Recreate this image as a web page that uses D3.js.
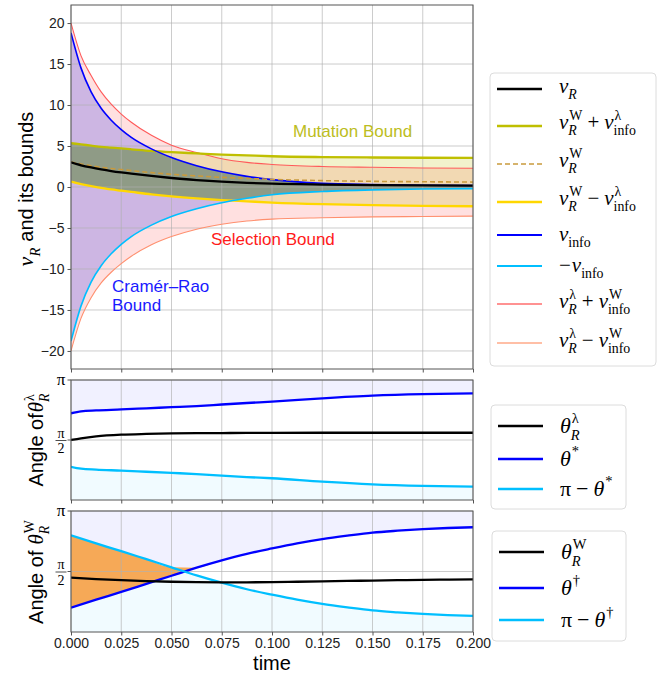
<!DOCTYPE html>
<html>
<head>
<meta charset="utf-8">
<script src="https://cdnjs.cloudflare.com/ajax/libs/d3/7.8.5/d3.min.js"></script>
<style>
  body { margin: 0; background: #fff; }
  text { font-family: "Liberation Sans", Arial, sans-serif; }
</style>
</head>
<body>
<svg id="chart" width="672" height="677"></svg>
<script>
const PI = Math.PI;

// ---- top panel: v_R and its bounds ----
const tTop    = [0, 0.005, 0.01, 0.015, 0.02, 0.025, 0.03, 0.04, 0.05, 0.0625, 0.075, 0.0875, 0.1, 0.125, 0.15, 0.175, 0.2];
const vR      = [3.0, 2.65, 2.38, 2.15, 1.95, 1.78, 1.63, 1.35, 1.1, 0.85, 0.65, 0.5, 0.4, 0.3, 0.24, 0.2, 0.17];
const vW      = [3.05, 2.8, 2.6, 2.4, 2.25, 2.13, 2.0, 1.75, 1.55, 1.35, 1.18, 1.05, 0.93, 0.78, 0.69, 0.64, 0.6];
const mutUp   = [5.35, 5.2, 5.05, 4.9, 4.8, 4.7, 4.6, 4.4, 4.25, 4.1, 3.95, 3.85, 3.75, 3.65, 3.6, 3.57, 3.55];
const mutLow  = [0.65, 0.35, 0.1, -0.1, -0.3, -0.45, -0.6, -0.9, -1.15, -1.4, -1.6, -1.75, -1.9, -2.1, -2.22, -2.3, -2.35];
const vInfo   = [18.8, 14.5, 11.6, 9.6, 8.15, 7.0, 6.05, 4.65, 3.6, 2.6, 1.85, 1.3, 0.9, 0.45, 0.3, 0.22, 0.18];
const vInfoN  = [-18.8, -14.5, -11.6, -9.6, -8.15, -7.0, -6.05, -4.65, -3.6, -2.65, -1.92, -1.38, -0.95, -0.55, -0.35, -0.25, -0.2];
const selUp   = [20, 16.0, 13.6, 11.6, 10.1, 8.9, 7.9, 6.3, 5.1, 4.2, 3.45, 3.0, 2.75, 2.5, 2.4, 2.32, 2.28];
const selLow  = [-20, -16.0, -13.5, -11.7, -10.4, -9.35, -8.45, -7.05, -6.05, -5.15, -4.55, -4.15, -3.92, -3.75, -3.65, -3.6, -3.55];

// ---- middle panel: angle of theta_R^lambda ----
const tMid      = [0, 0.005, 0.0125, 0.025, 0.0375, 0.05, 0.0625, 0.075, 0.0875, 0.1, 0.125, 0.15, 0.175, 0.2];
const thLam     = [1.571, 1.615, 1.665, 1.71, 1.73, 1.743, 1.75, 1.753, 1.756, 1.758, 1.76, 1.76, 1.76, 1.76];
const thStar    = [2.27, 2.32, 2.345, 2.37, 2.40, 2.43, 2.46, 2.50, 2.54, 2.575, 2.66, 2.73, 2.77, 2.79];
const thStarC   = [0.87, 0.82, 0.795, 0.77, 0.74, 0.71, 0.68, 0.64, 0.60, 0.57, 0.48, 0.41, 0.37, 0.35];

// ---- bottom panel: angle of theta_R^W ----
const tBot      = [0, 0.0125, 0.025, 0.0375, 0.05, 0.0625, 0.075, 0.0875, 0.1, 0.1125, 0.125, 0.1375, 0.15, 0.1625, 0.175, 0.1875, 0.2];
const thW       = [1.41, 1.375, 1.345, 1.32, 1.305, 1.295, 1.29, 1.29, 1.295, 1.305, 1.315, 1.325, 1.335, 1.345, 1.355, 1.36, 1.365];
const thDag     = [0.63, 0.84, 1.04, 1.25, 1.46, 1.67, 1.86, 2.03, 2.17, 2.30, 2.41, 2.50, 2.58, 2.63, 2.67, 2.70, 2.72];
const thDagC    = [2.51, 2.30, 2.10, 1.89, 1.68, 1.47, 1.28, 1.11, 0.97, 0.84, 0.73, 0.64, 0.56, 0.51, 0.47, 0.44, 0.42];

const xTicks   = [0, 0.025, 0.05, 0.075, 0.1, 0.125, 0.15, 0.175, 0.2];
const yTicksTop = [-20, -15, -10, -5, 0, 5, 10, 15, 20];
const angleTicks = [PI / 2, PI];

const serif = '"Liberation Serif","DejaVu Serif",serif';
const sans = '"Liberation Sans",Arial,sans-serif';

const svg = d3.select("#chart");

const x = d3.scaleLinear().domain([0, 0.2]).range([71, 473]);
const yTop = d3.scaleLinear().domain([-22.2, 22.2]).range([369, 5]);
const yMid = d3.scaleLinear().domain([0, PI]).range([500, 380]);
const yBot = d3.scaleLinear().domain([0, PI]).range([632, 511]);

// draws math-ish text piece by piece, returns width
function mathText(g, x0, y0, parts, size) {
  let cx = x0;
  const small = size * 0.66;
  for (const p of parts) {
    cx += p.padL || 0;
    if (p.b) {
      const t = g.append("text").attr("x", cx).attr("y", y0)
        .style("font-family", p.sans ? sans : serif)
        .style("font-style", p.it ? "italic" : "normal")
        .style("font-size", (p.size || size) + "px")
        .text(p.b);
      cx += t.node().getComputedTextLength();
    }
    let w = 0;
    if (p.sub) {
      const s = g.append("text").attr("x", cx).attr("y", y0 + size * 0.3)
        .style("font-family", serif)
        .style("font-style", p.subIt ? "italic" : "normal")
        .style("font-size", small + "px").text(p.sub);
      w = Math.max(w, s.node().getComputedTextLength());
    }
    if (p.sup) {
      const s = g.append("text").attr("x", cx + 1).attr("y", y0 - size * 0.45)
        .style("font-family", serif)
        .style("font-style", p.supIt ? "italic" : "normal")
        .style("font-size", small + "px").text(p.sup);
      w = Math.max(w, s.node().getComputedTextLength() + 1);
    }
    cx += w + (p.padR || 0);
  }
  return cx - x0;
}

function panel(top, bottom, id) {
  const g = svg.append("g");
  svg.append("clipPath").attr("id", id).append("rect")
    .attr("x", x.range()[0]).attr("y", top)
    .attr("width", x.range()[1] - x.range()[0]).attr("height", bottom - top);
  return g;
}

function grid(g, y, yTicks, top, bottom) {
  g.append("g").selectAll("line").data(xTicks).join("line")
    .attr("x1", d => x(d)).attr("x2", d => x(d))
    .attr("y1", top).attr("y2", bottom)
    .attr("stroke", "#b0b0b0").attr("stroke-opacity", 0.65).attr("stroke-width", 1);
  g.append("g").selectAll("line").data(yTicks).join("line")
    .attr("x1", x.range()[0]).attr("x2", x.range()[1])
    .attr("y1", d => y(d)).attr("y2", d => y(d))
    .attr("stroke", "#b0b0b0").attr("stroke-opacity", 0.65).attr("stroke-width", 1);
}

function frame(g, top, bottom, showX) {
  g.append("rect").attr("x", x.range()[0]).attr("y", top)
    .attr("width", x.range()[1] - x.range()[0]).attr("height", bottom - top)
    .attr("fill", "none").attr("stroke", "#555").attr("stroke-width", 1);
  const ax = g.append("g").attr("transform", `translate(0,${bottom})`)
    .call(d3.axisBottom(x).tickValues(xTicks).tickSize(3.5).tickPadding(3)
      .tickFormat(showX ? d3.format(".3f") : ""));
  ax.select(".domain").remove();
  ax.selectAll("line").attr("stroke", "#555");
  ax.selectAll("text").style("font-size", "14px").style("font-family", sans).attr("fill", "#222");
}

function line(g, t, vals, y, color, width, dash, clip) {
  const gen = d3.line().x((d, i) => x(t[i])).y(d => y(d)).curve(d3.curveMonotoneX);
  g.append("path").datum(vals).attr("d", gen)
    .attr("fill", "none").attr("stroke", color).attr("stroke-width", width)
    .attr("stroke-dasharray", dash || null).attr("clip-path", `url(#${clip})`);
}

function band(g, t, lo, hi, y, color, opacity, clip) {
  const gen = d3.area().x((d, i) => x(t[i])).y0((d, i) => y(lo[i])).y1((d, i) => y(hi[i]))
    .curve(d3.curveMonotoneX);
  g.append("path").datum(t).attr("d", gen)
    .attr("fill", color).attr("fill-opacity", opacity).attr("clip-path", `url(#${clip})`);
}

// ================= TOP PANEL =================
const gTop = panel(5, 369, "clipTop");
band(gTop, tTop, selLow, selUp, yTop, "#ff0000", 0.12, "clipTop");
band(gTop, tTop, mutLow, mutUp, yTop, "#bfbf00", 0.2, "clipTop");
band(gTop, tTop, vInfoN, vInfo, yTop, "#cdb6e3", 1, "clipTop");
// tightest region: inside both mutation and Cramer-Rao bounds
const tightLo = tTop.map((d, i) => Math.max(vInfoN[i], mutLow[i]));
const tightHi = tTop.map((d, i) => Math.min(vInfo[i], mutUp[i]));
band(gTop, tTop, tightLo, tightHi, yTop, "#8f9b86", 1, "clipTop");
grid(gTop, yTop, yTicksTop, 5, 369);

line(gTop, tTop, selUp, yTop, "#ff5a5a", 1.1, null, "clipTop");
line(gTop, tTop, selLow, yTop, "#ff8f6e", 1.1, null, "clipTop");
line(gTop, tTop, mutUp, yTop, "#bfbf00", 2.3, null, "clipTop");
line(gTop, tTop, mutLow, yTop, "#ffd700", 2.3, null, "clipTop");
line(gTop, tTop, vInfo, yTop, "#0000ff", 1.6, null, "clipTop");
line(gTop, tTop, vInfoN, yTop, "#00bfff", 1.6, null, "clipTop");
line(gTop, tTop, vW, yTop, "#c99a3c", 1.6, "5,3", "clipTop");
line(gTop, tTop, vR, yTop, "#000", 2.3, null, "clipTop");
frame(gTop, 5, 369, false);

const ayTop = gTop.append("g").attr("transform", `translate(${x.range()[0]},0)`)
  .call(d3.axisLeft(yTop).tickValues(yTicksTop).tickSize(3.5).tickPadding(3));
ayTop.select(".domain").remove();
ayTop.selectAll("line").attr("stroke", "#555");
ayTop.selectAll("text").style("font-size", "14px").style("font-family", sans).attr("fill", "#222");

// annotations
gTop.append("text").attr("x", 293).attr("y", 137).attr("fill", "#bcbd22")
  .style("font-size", "17px").text("Mutation Bound");
gTop.append("text").attr("x", 211).attr("y", 245).attr("fill", "#ff1a1a")
  .style("font-size", "17px").text("Selection Bound");
gTop.append("text").attr("x", 112).attr("y", 292).attr("fill", "#1a1aff")
  .style("font-size", "17px").text("Cramér–Rao");
gTop.append("text").attr("x", 112).attr("y", 311).attr("fill", "#1a1aff")
  .style("font-size", "17px").text("Bound");

// y label
{
  const lg = svg.append("g");
  const w = mathText(lg, 0, 0, [
    { b: "v", it: true, sub: "R", subIt: true, size: 22 },
    { b: "and its bounds", sans: true, padL: 6, size: 20 }
  ], 22);
  lg.attr("transform", `translate(33,${189 + w / 2}) rotate(-90)`);
}

// ================= MIDDLE PANEL =================
const gMid = panel(380, 500, "clipMid");
const piArrM = tMid.map(() => PI), zeroArrM = tMid.map(() => 0);
band(gMid, tMid, thStar, piArrM, yMid, "#0000ff", 0.055, "clipMid");
band(gMid, tMid, zeroArrM, thStarC, yMid, "#00bfff", 0.055, "clipMid");
grid(gMid, yMid, angleTicks, 380, 500);
line(gMid, tMid, thStar, yMid, "#0000ff", 2.3, null, "clipMid");
line(gMid, tMid, thStarC, yMid, "#00bfff", 2.3, null, "clipMid");
line(gMid, tMid, thLam, yMid, "#000", 2.3, null, "clipMid");
frame(gMid, 380, 500, false);

// ================= BOTTOM PANEL =================
const gBot = panel(511, 632, "clipBot");
const piArrB = tBot.map(() => PI), zeroArrB = tBot.map(() => 0);
band(gBot, tBot, thDag, piArrB, yBot, "#0000ff", 0.055, "clipBot");
band(gBot, tBot, zeroArrB, thDagC, yBot, "#00bfff", 0.055, "clipBot");
const overHi = tBot.map((d, i) => Math.max(thDag[i], thDagC[i]));
band(gBot, tBot, thDag, overHi, yBot, "#f6a957", 1, "clipBot");
grid(gBot, yBot, angleTicks, 511, 632);
line(gBot, tBot, thDag, yBot, "#0000ff", 2.3, null, "clipBot");
line(gBot, tBot, thDagC, yBot, "#00bfff", 2.3, null, "clipBot");
line(gBot, tBot, thW, yBot, "#000", 2.3, null, "clipBot");
frame(gBot, 511, 632, true);

svg.append("text").attr("x", x(0.1)).attr("y", 670).attr("text-anchor", "middle")
  .style("font-size", "20px").text("time");

// angle tick labels
function angleLabels(y) {
  const g = svg.append("g");
  angleTicks.forEach(v => {
    g.append("line").attr("x1", x.range()[0] - 3.5).attr("x2", x.range()[0])
      .attr("y1", y(v)).attr("y2", y(v)).attr("stroke", "#555");
  });
  g.append("text").attr("x", 61).attr("y", y(PI) + 5).attr("text-anchor", "middle")
    .style("font-family", serif).style("font-size", "17px").text("π");
  g.append("text").attr("x", 61).attr("y", y(PI / 2) - 2.5).attr("text-anchor", "middle")
    .style("font-family", serif).style("font-size", "14px").text("π");
  g.append("line").attr("x1", 55.5).attr("x2", 66.5).attr("y1", y(PI / 2) + 0.5).attr("y2", y(PI / 2) + 0.5)
    .attr("stroke", "#222").attr("stroke-width", 0.8);
  g.append("text").attr("x", 61).attr("y", y(PI / 2) + 13).attr("text-anchor", "middle")
    .style("font-family", serif).style("font-size", "14px").text("2");
}
angleLabels(yMid);
angleLabels(yBot);

function angleYLabel(cy, sup, gap) {
  const lg = svg.append("g");
  const w = mathText(lg, 0, 0, [
    { b: "Angle of", sans: true, size: 20 },
    { b: "θ", it: true, sub: "R", subIt: true, sup: sup, padL: gap }
  ], 21);
  lg.attr("transform", `translate(43,${cy + w / 2}) rotate(-90)`);
}
angleYLabel(440, "λ", 1);
angleYLabel(572, "W", 6);

// ================= LEGENDS =================
function legend(box, rows, size) {
  const g = svg.append("g");
  g.append("rect").attr("x", box[0]).attr("y", box[1])
    .attr("width", box[2] - box[0]).attr("height", box[3] - box[1])
    .attr("rx", 4).attr("fill", "#fff").attr("fill-opacity", 0.85)
    .attr("stroke", "#dcdcdc").attr("stroke-width", 1);
  rows.forEach(r => {
    g.append("line").attr("x1", box[0] + 7).attr("x2", box[0] + 52)
      .attr("y1", r.y).attr("y2", r.y)
      .attr("stroke", r.color).attr("stroke-width", r.w).attr("stroke-dasharray", r.dash || null);
    mathText(g, box[0] + 69, r.y + r.dy, r.parts, size);
  });
}

const vRW = { b: "v", it: true, sub: "R", subIt: true, sup: "W" };
const vRL = { b: "v", it: true, sub: "R", subIt: true, sup: "λ" };
const vIL = { b: "v", it: true, sub: "info", sup: "λ" };
const vIW = { b: "v", it: true, sub: "info", sup: "W" };
const plus = { b: "+", padL: 5, padR: 5 };
const minus = { b: "−", padL: 5, padR: 5 };

legend([490, 73, 656, 366], [
  { y: 89,  dy: 4, color: "#000",    w: 2.5, parts: [{ b: "v", it: true, sub: "R", subIt: true }] },
  { y: 126, dy: 3, color: "#bfbf00", w: 2.5, parts: [vRW, plus, vIL] },
  { y: 164, dy: 3, color: "#c99a3c", w: 1.6, dash: "5,3", parts: [vRW] },
  { y: 202, dy: 3, color: "#ffd700", w: 2.5, parts: [vRW, minus, vIL] },
  { y: 235, dy: 6, color: "#0000ff", w: 1.8, parts: [{ b: "v", it: true, sub: "info" }] },
  { y: 266, dy: 6, color: "#00bfff", w: 1.8, parts: [{ b: "−", padR: 1 }, { b: "v", it: true, sub: "info" }] },
  { y: 304, dy: 4, color: "#ff6e6e", w: 1.4, parts: [vRL, plus, vIW] },
  { y: 343, dy: 4, color: "#ffaa88", w: 1.4, parts: [vRL, minus, vIW] }
], 21);

const thR = sup => ({ b: "θ", it: true, sub: "R", subIt: true, sup: sup });
legend([491, 405, 626, 509], [
  { y: 426, dy: 7, color: "#000",    w: 2.5, parts: [thR("λ")] },
  { y: 459, dy: 7, color: "#0000ff", w: 2.5, parts: [{ b: "θ", it: true, sup: "*" }] },
  { y: 489, dy: 7, color: "#00bfff", w: 2.5, parts: [{ b: "π" }, minus, { b: "θ", it: true, sup: "*" }] }
], 22);

legend([492, 531, 626, 641], [
  { y: 552, dy: 7, color: "#000",    w: 2.5, parts: [thR("W")] },
  { y: 588, dy: 7, color: "#0000ff", w: 2.5, parts: [{ b: "θ", it: true, sup: "†" }] },
  { y: 620, dy: 7, color: "#00bfff", w: 2.5, parts: [{ b: "π" }, minus, { b: "θ", it: true, sup: "†" }] }
], 22);
</script>
</body>
</html>
